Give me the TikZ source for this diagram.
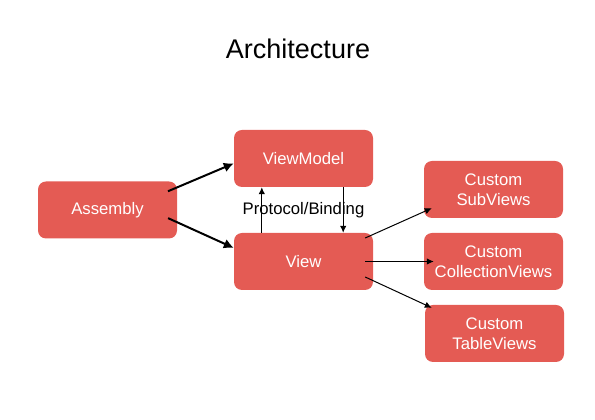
\documentclass[tikz,border=0pt]{standalone}
\usepackage{fontspec}
\setmainfont{Liberation Sans}
\usetikzlibrary{arrows.meta}
\definecolor{boxred}{RGB}{228,91,84}

\begin{document}
\begin{tikzpicture}[
	x=1pt, y=1pt,
	box/.style={rectangle, rounded corners=8pt, fill=boxred, text=white, minimum width=139pt, minimum height=57pt, inner sep=1pt, align=center, font=\fontsize{16.7}{20}\selectfont},
	>=Latex
	]
	\useasboundingbox (0,0) rectangle (595,420);
	
	%-----------------------
	% Customizable heights
	%-----------------------
	\def\htop{261.5}  % Row 1: ViewModel
	\def\hmid{210}    % Row 2: Assembly, label
	\def\hbot{158.5}  % Row 3: View
	
	%-----------------------
	% Title
	%-----------------------
	\node[anchor=base, font=\fontsize{27}{32}\selectfont] (title) at (298,361) {Architecture};
	
	%-----------------------
	% Left column: assembly
	%-----------------------
	\node[box] (asm) at (107.5,\hmid) {Assembly};
	
	%-----------------------
	% Middle column: view model and view
	%-----------------------
	\node[box] (vm) at (303.5,\htop) {ViewModel};
	\node[box] (view) at (303.5,\hbot) {View};
	\node[font=\fontsize{16.7}{20}\selectfont] (pb) at (303.5,\hmid) {Protocol/Binding};
	
	%-----------------------
	% Right column: custom views
	%-----------------------
	\node[box] (sub) at (493.5,230.5) {Custom\\SubViews};
	\node[box] (coll) at (493.5,158.5) {Custom\\CollectionViews};
	\node[box] (tab) at (494.5,86.5) {Custom\\TableViews};
	
	%-----------------------
	% Connections
	%-----------------------
	\tikzset{connect/.style={-{Latex[length=7pt,width=6.5pt]}, line width=1pt},
		strong/.style={-{Latex[length=10pt,width=10pt]}, line width=2pt, shorten <=-10pt}}
	
	% Assembly -> view model, view
	\draw[strong] (asm.18) -- (vm.184);
	\draw[strong] (asm.-10) -- (view.169);
	
	% View <-> view model
	\draw[connect] ([xshift=28pt]view.north west) -- ([xshift=28pt]vm.south west);
	\draw[connect] ([xshift=-30pt]vm.south east) -- ([xshift=-30pt]view.north east);
	
	% View -> custom views
	\draw[connect] ([xshift=-8pt,yshift=23.5pt]view.east) -- ([xshift=8pt,yshift=10pt]sub.south west);
	\draw[connect] ([xshift=-8pt]view.east) -- ([xshift=10pt]coll.west);
	\draw[connect] ([xshift=-8pt,yshift=-15.5pt]view.east) -- ([xshift=7pt,yshift=-3pt]tab.north west);
	
\end{tikzpicture}
\end{document}
